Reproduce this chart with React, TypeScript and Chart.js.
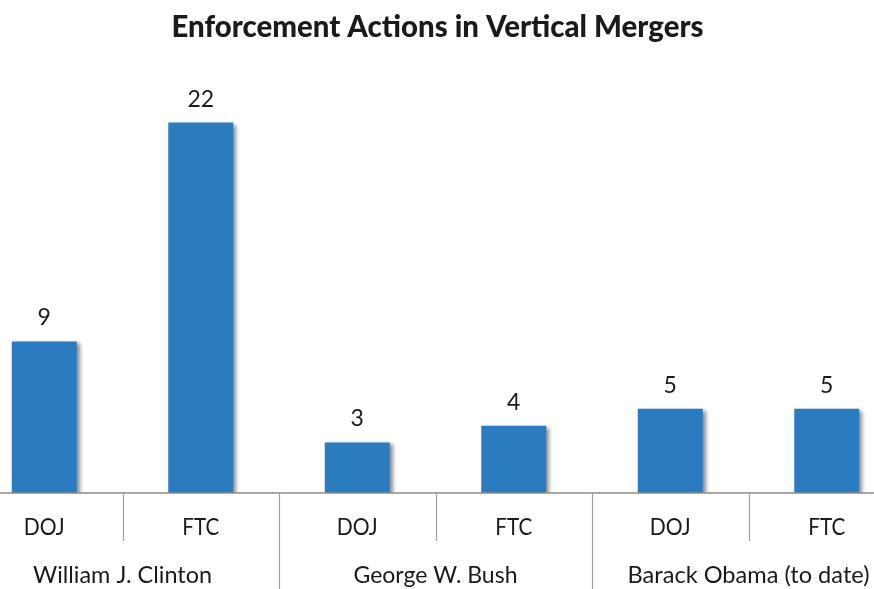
import React, { useEffect, useRef } from "react";
import { Chart, registerables } from "chart.js";

Chart.register(...registerables);

const categories = ["DOJ", "FTC", "DOJ", "FTC", "DOJ", "FTC"];
const groups = ["William J. Clinton", "George W. Bush", "Barack Obama (to date)"];
const values = [9, 22, 3, 4, 5, 5];
const title = "Enforcement Actions in Vertical Mergers";

const OFFSET = 34; // canvas starts left of the visible frame
const CANVAS_W = 939;
const CANVAS_H = 589;
const BAR_COLOR = "#2b7bc0";
const TEXT_COLOR = "#1a1a1a";
const FONT = "Lato, 'Open Sans', 'Liberation Sans', sans-serif";

const overlay = {
  id: "overlay",
  beforeDatasetDraw(chart: any) {
    const ctx = chart.ctx;
    ctx.save();
    ctx.shadowColor = "rgba(0,0,0,0.45)";
    ctx.shadowOffsetX = 3;
    ctx.shadowOffsetY = 2;
    ctx.shadowBlur = 4;
  },
  afterDatasetDraw(chart: any) {
    chart.ctx.restore();
  },
  afterDraw(chart: any) {
    const ctx = chart.ctx;
    const xs = chart.scales.x;
    const ys = chart.scales.y;
    const base = ys.getPixelForValue(0);
    ctx.save();
    // axis line
    ctx.strokeStyle = "#8c8c8c";
    ctx.lineWidth = 1.5;
    ctx.beginPath();
    ctx.moveTo(0, base);
    ctx.lineTo(chart.width, base);
    ctx.stroke();
    // separators
    ctx.strokeStyle = "#a0a0a0";
    ctx.lineWidth = 1.2;
    for (let i = 1; i < categories.length; i++) {
      const sx = Math.round((xs.getPixelForValue(i - 1) + xs.getPixelForValue(i)) / 2) + 0.5;
      const end = i % 2 === 0 ? chart.height : base + 48;
      ctx.beginPath();
      ctx.moveTo(sx, base);
      ctx.lineTo(sx, end);
      ctx.stroke();
    }
    ctx.fillStyle = TEXT_COLOR;
    ctx.textAlign = "center";
    ctx.textBaseline = "alphabetic";
    // category labels
    ctx.font = `24px ${FONT}`;
    categories.forEach((c, i) => {
      ctx.fillText(c, xs.getPixelForValue(i), base + 42, c === "DOJ" ? 41 : 37);
    });
    // group labels
    const gWidths = [179, 164, 242];
    groups.forEach((g, gi) => {
      const cx = (xs.getPixelForValue(gi * 2) + xs.getPixelForValue(gi * 2 + 1)) / 2;
      ctx.fillText(g, cx, 583, gWidths[gi]);
    });
    // data labels
    const meta = chart.getDatasetMeta(0);
    ctx.font = `23px ${FONT}`;
    meta.data.forEach((bar: any, i: number) => {
      ctx.fillText(String(values[i]), bar.x, bar.y - 16);
    });
    // title
    ctx.font = `900 31px ${FONT}`;
    ctx.fillText(title, 437.5 + OFFSET, 37, 532);
    ctx.restore();
  },
};

export default function App() {
  const ref = useRef<HTMLCanvasElement>(null);
  useEffect(() => {
    if (!ref.current) return;
    const chart = new Chart(ref.current, {
      type: "bar",
      data: {
        labels: categories,
        datasets: [
          {
            data: values,
            backgroundColor: BAR_COLOR,
            borderWidth: 0,
            categoryPercentage: 1,
            barPercentage: 0.415,
          },
        ],
      },
      options: {
        responsive: false,
        animation: false,
        devicePixelRatio: 1,
        layout: { padding: { top: 72, bottom: 96, left: 0, right: 0 } },
        plugins: { legend: { display: false }, tooltip: { enabled: false }, title: { display: false } },
        scales: {
          x: { display: false },
          y: { display: false, min: 0, max: 25 },
        },
      },
      plugins: [overlay],
    });
    return () => chart.destroy();
  }, []);
  return (
    <div
      style={{
        position: "fixed",
        left: 0,
        top: 0,
        width: 874,
        height: 589,
        overflow: "hidden",
        background: "#fff",
      }}
    >
      <canvas
        ref={ref}
        width={CANVAS_W}
        height={CANVAS_H}
        style={{ position: "absolute", left: -OFFSET, top: 0, width: CANVAS_W, height: CANVAS_H }}
      />
    </div>
  );
}
